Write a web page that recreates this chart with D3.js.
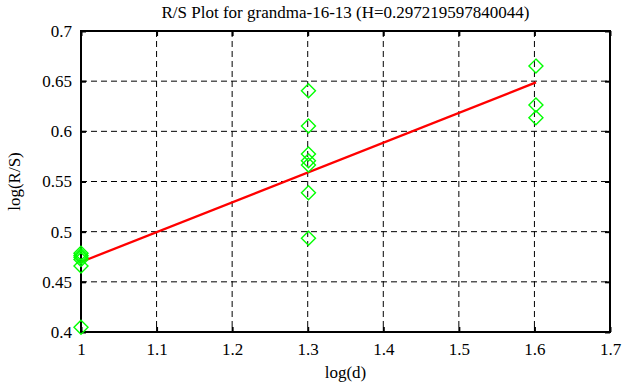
<!DOCTYPE html>
<html>
<head>
<meta charset="utf-8">
<script src="https://cdn.jsdelivr.net/npm/d3@7"></script>
<style>
  body { margin: 0; background: #fff; }
  svg { display: block; }
  svg text { font-family: "Liberation Serif", "Times New Roman", serif; font-size: 17px; fill: #000; }
</style>
</head>
<body>
<div id="chart"></div>
<script>
// 数据：log(d) 与 log(R/S)
const logD = [1, 1, 1, 1, 1, 1, 1.301, 1.301, 1.301, 1.301, 1.301, 1.301, 1.301, 1.602, 1.602, 1.602];
const logRS = [0.4784, 0.4762, 0.4745, 0.4722, 0.4658, 0.4047,
  0.6405, 0.6053, 0.5774, 0.5707, 0.5664, 0.5388, 0.4934,
  0.6650, 0.6262, 0.6136];
const hurst = 0.297219597840044;
const intercept = 0.4698;
const xTicks = [1, 1.1, 1.2, 1.3, 1.4, 1.5, 1.6, 1.7];
const yTicks = [0.4, 0.45, 0.5, 0.55, 0.6, 0.65, 0.7];

const width = 626, height = 387;
const margin = { top: 31, right: 16, bottom: 55, left: 81 };

const svg = d3.select('#chart').append('svg')
  .attr('width', width)
  .attr('height', height);

const x = d3.scaleLinear().domain([1, 1.7]).range([margin.left, width - margin.right]);
const y = d3.scaleLinear().domain([0.4, 0.7]).range([height - margin.bottom, margin.top]);

// 网格线（虚线）
const grid = svg.append('g');
grid.selectAll('.gx')
  .data(xTicks.slice(1, -1))
  .join('line')
  .attr('x1', d => x(d)).attr('x2', d => x(d))
  .attr('y1', y(0.7)).attr('y2', y(0.4))
  .attr('stroke', '#000').attr('stroke-width', 1)
  .attr('stroke-dasharray', '6,4');
grid.selectAll('.gy')
  .data(yTicks.slice(1, -1))
  .join('line')
  .attr('y1', d => y(d)).attr('y2', d => y(d))
  .attr('x1', x(1)).attr('x2', x(1.7))
  .attr('stroke', '#000').attr('stroke-width', 1)
  .attr('stroke-dasharray', '6,4');

// 坐标轴（四边刻度朝内）
const tick = 5;
function clean(g) {
  g.select('.domain').remove();
  g.attr('font-family', null).attr('font-size', null);
}
svg.append('g')
  .attr('transform', `translate(0,${y(0.4)})`)
  .call(d3.axisBottom(x).tickValues(xTicks).tickSize(-tick).tickPadding(11).tickFormat(d3.format('')))
  .call(clean);
svg.append('g')
  .attr('transform', `translate(0,${y(0.7)})`)
  .call(d3.axisTop(x).tickValues(xTicks).tickSize(-tick).tickFormat(''))
  .call(clean);
svg.append('g')
  .attr('transform', `translate(${x(1)},0)`)
  .call(d3.axisLeft(y).tickValues(yTicks).tickSize(-tick).tickPadding(9).tickFormat(d3.format('')))
  .call(clean);
svg.append('g')
  .attr('transform', `translate(${x(1.7)},0)`)
  .call(d3.axisRight(y).tickValues(yTicks).tickSize(-tick).tickFormat(''))
  .call(clean);

svg.selectAll('.tick line').attr('stroke', '#000').attr('stroke-width', 2);

// 边框
svg.append('rect')
  .attr('x', x(1)).attr('y', y(0.7))
  .attr('width', x(1.7) - x(1)).attr('height', y(0.4) - y(0.7))
  .attr('fill', 'none').attr('stroke', '#000').attr('stroke-width', 2);

// 拟合直线
svg.append('line')
  .attr('x1', x(1)).attr('y1', y(intercept))
  .attr('x2', x(1.602)).attr('y2', y(intercept + hurst * 0.602))
  .attr('stroke', '#ff0000').attr('stroke-width', 2.3);

// 菱形数据点
const r = 7;
svg.append('g')
  .selectAll('path')
  .data(logD.map((d, i) => [d, logRS[i]]))
  .join('path')
  .attr('d', d => {
    const cx = x(d[0]), cy = y(d[1]);
    return `M${cx},${cy - r}L${cx + r},${cy}L${cx},${cy + r}L${cx - r},${cy}Z`;
  })
  .attr('fill', 'none')
  .attr('stroke', '#00ff00')
  .attr('stroke-width', 1.4);

// 标题与轴标签
svg.append('text')
  .attr('x', (x(1) + x(1.7)) / 2).attr('y', 18)
  .attr('text-anchor', 'middle')
  .text('R/S Plot for grandma-16-13 (H=0.297219597840044)');
svg.append('text')
  .attr('x', (x(1) + x(1.7)) / 2).attr('y', 378)
  .attr('text-anchor', 'middle')
  .text('log(d)');
svg.append('text')
  .attr('transform', `translate(20,${(y(0.4) + y(0.7)) / 2}) rotate(-90)`)
  .attr('text-anchor', 'middle')
  .text('log(R/S)');
</script>
</body>
</html>
